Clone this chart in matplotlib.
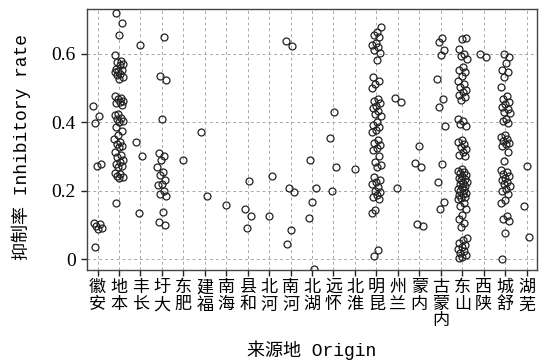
import numpy as np
import matplotlib
matplotlib.use("Agg")
import matplotlib.pyplot as plt

plt.rcParams['font.family'] = ['Liberation Mono', 'Noto Sans CJK SC', 'DejaVu Sans']

origins = ["安徽", "本地", "长丰", "大圩", "肥东", "福建", "海南", "和县", "河北", "河南",
           "湖北", "怀远", "淮北", "昆明", "兰州", "内蒙", "内蒙古", "山东", "陕西", "舒城", "芜湖"]

anhui = [0.448, 0.418, 0.397, 0.278, 0.272, 0.105, 0.102, 0.098, 0.092, 0.087, 0.035]
bendi = [0.718, 0.690, 0.653, 0.596, 0.578, 0.574, 0.570, 0.566, 0.556, 0.552, 0.548,
         0.545, 0.541, 0.537, 0.532, 0.527, 0.475, 0.471, 0.467, 0.463, 0.459, 0.455,
         0.451, 0.425, 0.420, 0.412, 0.408, 0.404, 0.400, 0.385, 0.375, 0.362, 0.350,
         0.342, 0.336, 0.331, 0.326, 0.312, 0.305, 0.298, 0.290, 0.283, 0.278, 0.273,
         0.268, 0.252, 0.248, 0.244, 0.240, 0.236, 0.165]
changfeng = [0.625, 0.343, 0.300, 0.134]
daxu = [0.647, 0.535, 0.523, 0.410, 0.310, 0.300, 0.290, 0.270, 0.253, 0.245, 0.230,
        0.220, 0.215, 0.200, 0.190, 0.185, 0.138, 0.107, 0.100]
feidong = [0.290]
fujian = [0.372, 0.183]
hainan = [0.157]
hexian = [0.227, 0.146, 0.126, 0.092]
hebei = [0.242, 0.125]
henan = [0.638, 0.623, 0.209, 0.197, 0.086, 0.043]
hubei = [0.289, 0.207, 0.166, 0.120, -0.030]
huaiyuan = [0.428, 0.353, 0.268, 0.200]
huaibei = [0.263]
kunming = [0.679, 0.662, 0.655, 0.648, 0.632, 0.625, 0.618, 0.610, 0.603, 0.580,
           0.533, 0.520, 0.510, 0.500, 0.468, 0.462, 0.455, 0.448, 0.440, 0.432,
           0.425, 0.418, 0.400, 0.392, 0.385, 0.378, 0.372, 0.348, 0.340, 0.332,
           0.325, 0.318, 0.300, 0.282, 0.275, 0.268, 0.240, 0.232, 0.226, 0.220,
           0.210, 0.200, 0.195, 0.188, 0.182, 0.176, 0.144, 0.134, 0.027, 0.008]
lanzhou = [0.470, 0.460, 0.207]
neimeng = [0.329, 0.280, 0.270, 0.103, 0.097]
neimenggu = [0.645, 0.635, 0.610, 0.596, 0.526, 0.468, 0.445, 0.390, 0.278, 0.224,
             0.166, 0.146]
shandong = [0.646, 0.642, 0.612, 0.600, 0.592, 0.585, 0.560, 0.552, 0.545, 0.535,
            0.520, 0.512, 0.503, 0.495, 0.488, 0.480, 0.472, 0.465, 0.410, 0.402,
            0.395, 0.388, 0.348, 0.342, 0.335, 0.328, 0.320, 0.312, 0.305, 0.300,
            0.262, 0.258, 0.254, 0.250, 0.246, 0.242, 0.238, 0.234, 0.230, 0.226,
            0.222, 0.218, 0.214, 0.210, 0.206, 0.202, 0.198, 0.194, 0.190, 0.186,
            0.182, 0.178, 0.174, 0.165, 0.155, 0.145, 0.130, 0.118, 0.105, 0.095,
            0.062, 0.055, 0.048, 0.042, 0.036, 0.030, 0.024, 0.018, 0.012, 0.006, 0.002]
shaanxi = [0.600, 0.590]
shucheng = [0.600, 0.590, 0.572, 0.553, 0.545, 0.533, 0.502, 0.475, 0.468, 0.460,
            0.452, 0.445, 0.438, 0.430, 0.426, 0.410, 0.404, 0.397, 0.363, 0.356,
            0.350, 0.345, 0.340, 0.335, 0.329, 0.314, 0.285, 0.260, 0.254, 0.248,
            0.242, 0.236, 0.230, 0.224, 0.218, 0.212, 0.205, 0.198, 0.190, 0.173,
            0.163, 0.125, 0.118, 0.110, 0.076, 0.000]
wuhu = [0.273, 0.154, 0.064]

groups = [anhui, bendi, changfeng, daxu, feidong, fujian, hainan, hexian, hebei, henan,
          hubei, huaiyuan, huaibei, kunming, lanzhou, neimeng, neimenggu, shandong,
          shaanxi, shucheng, wuhu]

fig = plt.figure(figsize=(5.46, 3.62), dpi=100)
ax = fig.add_axes([0.159, 0.254, 0.825, 0.721])

# deterministic jitter (golden ratio sequence)
for i, vals in enumerate(groups):
    k = np.arange(len(vals))
    jit = 0.22 * (((k + i * 0.37) * 0.618034) % 1 * 2 - 1)
    if len(vals) == 1:
        jit = np.zeros(1)
    ax.plot(i + jit, vals, 'o', ms=5.0, mfc='none', mec='#222222', mew=0.9,
            clip_on=True, zorder=3)

ax.set_xlim(-0.5, len(origins) - 0.5)
ax.set_ylim(-0.032, 0.73)
ax.set_yticks([0, 0.2, 0.4, 0.6])
ax.set_yticklabels(["0", "0.2", "0.4", "0.6"], fontsize=14, family='Liberation Serif')
ax.set_xticks(range(len(origins)))
ax.set_xticklabels(["\n".join(reversed(s)) for s in origins], fontsize=12.3,
                   linespacing=1.15, va='top')
ax.tick_params(axis='both', direction='out', length=4, width=1, color='#222222')
ax.tick_params(axis='x', pad=3)
ax.tick_params(axis='y', pad=4)
ax.grid(True, linestyle=(0, (3, 3)), color='#a8a8a8', linewidth=0.7)
ax.set_axisbelow(True)
for s in ax.spines.values():
    s.set_color('#444444')
    s.set_linewidth(1.0)

ax.set_ylabel("抑制率 Inhibitory rate", fontsize=13)
ax.yaxis.set_label_coords(-0.146, 0.47)
ax.yaxis.label.set_va('center')
ax.set_xlabel("来源地 Origin", fontsize=13)
ax.xaxis.set_label_coords(0.5, -0.306)
ax.xaxis.label.set_va('center')

fig.savefig("out.png", dpi=100)
